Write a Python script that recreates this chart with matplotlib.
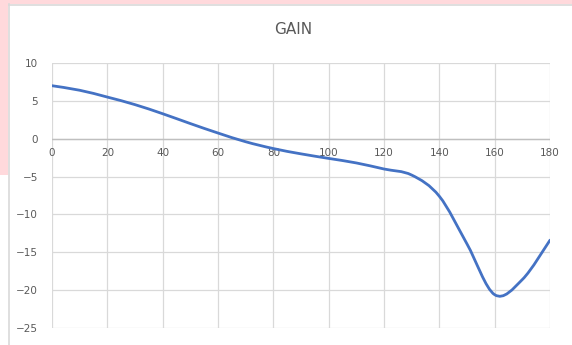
import numpy as np
import matplotlib
matplotlib.use('Agg')
import matplotlib.pyplot as plt
from matplotlib.path import Path
from matplotlib.patches import PathPatch, Rectangle

# gain curve, read every 10 degrees
angle = [0, 10, 20, 30, 40, 50, 60, 70, 80, 90, 100, 110, 120, 130, 140, 150, 160, 170, 180]
gain = [7.0, 6.4, 5.5, 4.5, 3.3, 2.0, 0.75, -0.4, -1.3, -2.0, -2.6, -3.2, -4.0, -4.8, -7.6, -13.9, -20.6, -18.6, -13.4]

xticks = list(range(0, 181, 20))
yticks = list(range(-25, 11, 5))

GRID = '#D9D9D9'
TXT = '#595959'
LINE = '#4472C4'


def smooth_path(xs, ys):
    # spreadsheet-style smoothed line: cubic bezier through every point
    p = np.column_stack([xs, ys]).astype(float)
    n = len(p)
    verts = [p[0]]
    codes = [Path.MOVETO]
    for i in range(n - 1):
        p0 = p[i - 1] if i > 0 else p[i]
        p3 = p[i + 2] if i + 2 < n else p[i + 1]
        c1 = p[i] + (p[i + 1] - p0) / 6.0
        c2 = p[i + 1] - (p3 - p[i]) / 6.0
        verts += [c1, c2, p[i + 1]]
        codes += [Path.CURVE4] * 3
    return Path(verts, codes)


fig = plt.figure(figsize=(5.72, 3.45), dpi=100)
fig.patch.set_facecolor('white')

# pink strips around the chart frame
fig.patches.append(Rectangle((0, 1 - 4 / 345), 1, 4 / 345, transform=fig.transFigure,
                             facecolor='#FFD9DC', edgecolor='none', zorder=0))
fig.patches.append(Rectangle((0, 1 - 175 / 345), 8 / 572, 175 / 345, transform=fig.transFigure,
                             facecolor='#FFD9DC', edgecolor='none', zorder=0))
# chart frame edge
fig.lines.append(plt.Line2D([9 / 572, 9 / 572], [0, 1 - 4 / 345], transform=fig.transFigure,
                            color='#D9D9D9', lw=1.2))
fig.lines.append(plt.Line2D([9 / 572, 1], [1 - 4.5 / 345, 1 - 4.5 / 345], transform=fig.transFigure,
                            color='#D9D9D9', lw=1.2))

ax = fig.add_axes([52 / 572, 1 - 328 / 345, (550 - 52) / 572, (328 - 63) / 345])
ax.set_xlim(0, 180)
ax.set_ylim(-25, 10)
ax.set_xticks(xticks)
ax.set_yticks(yticks)
ax.grid(True, color=GRID, lw=0.9)
ax.set_axisbelow(True)
for s in ax.spines.values():
    s.set_visible(False)
ax.tick_params(length=0)
ax.tick_params(axis='y', labelsize=7.5, labelcolor=TXT, pad=10)
ax.set_xticklabels([])

# horizontal axis crosses at zero with its labels just under it
ax.axhline(0, color='#BFBFBF', lw=1.0, zorder=1)
for t in xticks:
    ax.text(t, -1.2, str(t), ha='center', va='top', fontsize=7.5, color=TXT)

ax.add_patch(PathPatch(smooth_path(angle, gain), facecolor='none', edgecolor=LINE,
                       lw=2.0, capstyle='round', zorder=3))

fig.text(293 / 572, 1 - 30 / 345, 'GAIN', ha='center', va='center', fontsize=11, color=TXT)

fig.savefig('out.png', dpi=100)
